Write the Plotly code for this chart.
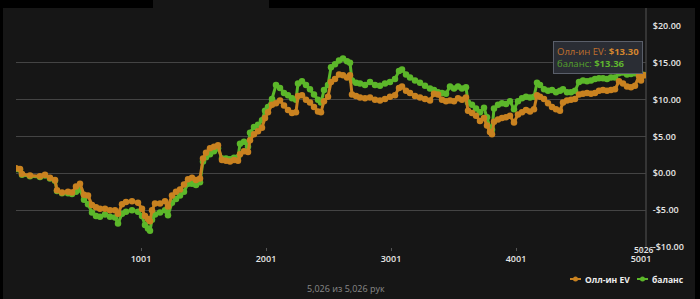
import plotly.graph_objects as go

hands = [1, 33, 49, 113, 193, 233, 273, 313, 329, 369, 417, 449, 481, 513, 545, 577, 609, 641, 673, 713,
         753, 793, 817, 849, 881, 929, 977, 1009, 1033, 1057, 1073, 1089, 1113, 1153, 1193, 1217, 1249, 1281,
         1313, 1345, 1377, 1409, 1441, 1473, 1497, 1521, 1553, 1585, 1617, 1649, 1681, 1713, 1745, 1777, 1793,
         1825, 1857, 1873, 1905, 1937, 1969, 1993, 2017, 2049, 2081, 2113, 2145, 2177, 2209, 2241, 2257, 2289,
         2321, 2353, 2385, 2417, 2441, 2465, 2497, 2521, 2553, 2585, 2617, 2649, 2673, 2689, 2721, 2753, 2793,
         2833, 2873, 2913, 2953, 2993, 3033, 3065, 3089, 3121, 3153, 3193, 3233, 3273, 3313, 3345, 3377, 3409,
         3441, 3473, 3505, 3537, 3569, 3601, 3617, 3649, 3681, 3713, 3745, 3769, 3793, 3809, 3825, 3857, 3889,
         3921, 3953, 3985, 4017, 4049, 4081, 4113, 4145, 4169, 4193, 4225, 4257, 4289, 4321, 4353, 4377, 4409,
         4441, 4473, 4505, 4537, 4569, 4601, 4633, 4665, 4697, 4729, 4761, 4793, 4825, 4857, 4889, 4921, 4953,
         4985, 5001, 5026]

allin_ev = [0.7, 0.6, -0.1, -0.3, -0.4, -0.2, -0.6, -0.9, -2.3, -2.6, -2.5, -2.6, -1.8, -1.4, -2.9, -3.0, -4.3,
            -4.6, -4.8, -4.8, -5.0, -5.0, -5.5, -4.2, -3.9, -3.8, -4.0, -4.8, -5.8, -6.2, -6.5, -5.0, -4.1, -4.1,
            -3.8, -4.5, -3.0, -2.5, -2.2, -1.5, -0.8, -0.6, -0.9, -0.7, 2.0, 2.8, 3.4, 3.6, 3.8, 1.8, 1.7, 1.6,
            1.8, 1.7, 2.6, 3.0, 2.9, 4.5, 5.3, 5.7, 6.2, 7.5, 8.3, 9.3, 9.5, 9.9, 9.2, 8.6, 8.2, 8.3, 10.5, 10.6,
            10.0, 9.6, 9.0, 8.4, 8.3, 9.8, 10.4, 12.4, 12.8, 13.4, 13.3, 13.0, 13.3, 10.7, 10.5, 10.3, 10.2, 10.3,
            10.0, 9.9, 10.1, 10.4, 10.6, 11.6, 11.8, 11.2, 10.9, 10.5, 10.3, 10.1, 9.9, 10.8, 10.7, 10.0, 9.8,
            9.9, 9.8, 10.2, 10.0, 10.3, 8.5, 8.2, 7.8, 7.1, 7.5, 6.5, 5.6, 5.3, 7.0, 7.3, 7.5, 7.6, 7.8, 6.9,
            8.0, 8.3, 8.6, 8.4, 8.7, 10.6, 10.4, 10.1, 9.5, 9.0, 8.7, 8.5, 9.6, 9.9, 10.0, 10.1, 10.7, 10.8,
            10.9, 10.8, 10.9, 11.2, 11.3, 11.2, 11.3, 11.4, 12.5, 12.2, 11.8, 11.7, 11.9, 13.2, 12.6, 13.30]

balance = [0.6, 0.5, -0.2, -0.4, -0.5, -0.3, -0.7, -1.0, -2.4, -2.7, -2.7, -2.8, -2.5, -2.2, -3.6, -4.2, -5.3,
           -5.8, -5.9, -5.6, -5.9, -6.0, -6.8, -5.5, -5.2, -5.0, -5.2, -5.8, -7.0, -7.5, -7.8, -6.3, -5.6, -5.3,
           -5.0, -5.7, -4.0, -3.5, -3.0, -2.5, -1.4, -1.4, -1.6, -1.2, 1.6, 2.2, 2.6, 3.0, 3.4, 2.0, 2.0, 1.9,
           2.1, 2.2, 4.0, 4.3, 3.6, 5.5, 6.3, 6.6, 7.2, 8.5, 9.0, 10.1, 12.0, 11.6, 10.9, 10.6, 10.2, 10.0, 12.2,
           12.5, 12.0, 11.4, 10.7, 10.0, 9.6, 11.3, 12.0, 14.4, 14.8, 15.3, 15.6, 15.2, 15.0, 12.6, 12.3, 12.2,
           12.0, 12.4, 12.0, 11.9, 12.2, 12.4, 12.8, 13.9, 14.1, 13.4, 13.0, 12.6, 12.3, 11.9, 11.5, 11.3, 11.0,
           10.9, 10.8, 11.8, 11.5, 11.8, 11.5, 11.7, 9.6, 9.3, 8.8, 8.3, 8.9, 7.6, 6.2, 5.9, 8.8, 9.3, 9.5, 9.4,
           9.8, 8.7, 9.8, 10.2, 10.4, 10.3, 10.4, 12.3, 12.0, 11.4, 11.2, 11.3, 11.0, 11.2, 11.4, 11.0, 11.0,
           11.2, 12.4, 12.6, 12.5, 12.6, 12.8, 12.9, 12.9, 12.8, 13.0, 13.0, 13.6, 13.7, 13.4, 13.5, 13.6, 13.7,
           13.5, 13.36]

series_names = ["Олл-ин EV", "баланс"]
x_tick_vals = [1001, 2001, 3001, 4001, 5001]
y_tick_vals = [-10, -5, 0, 5, 10, 15, 20]
y_tick_text = ["-$10.00", "-$5.00", "$0.00", "$5.00", "$10.00", "$15.00", "$20.00"]
total_hands = 5026

ORANGE = "#c98220"
GREEN = "#5cb72a"
PANEL = "#161616"
GRID = "#444444"

fig = go.Figure()
fig.add_trace(go.Scatter(x=hands, y=balance, mode="lines+markers", name=series_names[1],
                         line=dict(color=GREEN, width=3), marker=dict(color=GREEN, size=6.5),
                         showlegend=False, hoverinfo="skip"))
fig.add_trace(go.Scatter(x=hands, y=allin_ev, mode="lines+markers", name=series_names[0],
                         line=dict(color=ORANGE, width=3), marker=dict(color=ORANGE, size=6.5),
                         showlegend=False, hoverinfo="skip"))

L, R, T, B = 16, 54, 26, 52
PW, PH = 700 - L - R, 299 - T - B


def px(xp):
    return (xp - L) / PW


def py(yp):
    return (299 - B - yp) / PH


shapes = [
    dict(type="rect", xref="paper", yref="paper", x0=px(3), x1=px(695), y0=py(299), y1=py(8),
         fillcolor=PANEL, line=dict(width=0), layer="below"),
    dict(type="rect", xref="paper", yref="paper", x0=px(153), x1=px(269), y0=py(8), y1=py(0),
         fillcolor=PANEL, line=dict(width=0), layer="below"),
    dict(type="line", xref="paper", yref="paper", x0=1, x1=1, y0=0, y1=py(8),
         line=dict(color="#555555", width=1), layer="below"),
    # legend symbols
    dict(type="line", xref="paper", yref="paper", x0=px(570), x1=px(581), y0=py(279), y1=py(279),
         line=dict(color=ORANGE, width=2)),
    dict(type="circle", xref="paper", yref="paper", x0=px(573), x1=px(578), y0=py(281.5), y1=py(276.5),
         fillcolor=ORANGE, line=dict(width=0)),
    dict(type="line", xref="paper", yref="paper", x0=px(637), x1=px(648), y0=py(279), y1=py(279),
         line=dict(color=GREEN, width=2)),
    dict(type="circle", xref="paper", yref="paper", x0=px(640), x1=px(645), y0=py(281.5), y1=py(276.5),
         fillcolor=GREEN, line=dict(width=0)),
]

annotations = [
    dict(xref="paper", yref="paper", x=px(583), y=py(279), xanchor="left", yanchor="middle",
         text="<b>" + series_names[0] + "</b>", showarrow=False,
         font=dict(family="Open Sans", size=8.5, color="#eeeeee")),
    dict(xref="paper", yref="paper", x=px(650), y=py(279), xanchor="left", yanchor="middle",
         text="<b>" + series_names[1] + "</b>", showarrow=False,
         font=dict(family="Open Sans", size=8.5, color="#eeeeee")),
    dict(xref="paper", yref="paper", x=px(346), y=py(288), xanchor="center", yanchor="middle",
         text=f"{total_hands:,} из {total_hands:,} рук", showarrow=False,
         font=dict(family="Open Sans", size=9, color="#8a8a8a")),
    dict(xref="x", yref="paper", x=total_hands, y=py(249.5), xanchor="center", yanchor="middle",
         text=str(total_hands), showarrow=False,
         font=dict(family="Open Sans", size=8.5, color="#e6e6e6", weight=600)),
    dict(xref="paper", yref="paper", x=px(597.5), y=py(57.5), xanchor="center", yanchor="middle",
         text=(f"<span style='color:#c0702c'>{series_names[0]}: <b style='color:#d4862e'>${allin_ev[-1]:.2f}</b></span><br>"
               f"<span style='color:#55a22c'>{series_names[1]}: <b style='color:#5fb52e'>${balance[-1]:.2f}</b></span>"),
         showarrow=False, align="left", bgcolor="#2a2d34", bordercolor="#5a5f6a", borderwidth=1, borderpad=3,
         font=dict(family="Open Sans", size=9.5)),
]

fig.update_layout(
    width=700, height=299,
    margin=dict(l=L, r=R, t=T, b=B, pad=0),
    paper_bgcolor="#000000", plot_bgcolor="rgba(0,0,0,0)",
    showlegend=False,
    shapes=shapes, annotations=annotations,
    xaxis=dict(range=[1, 5041], tickvals=x_tick_vals, ticktext=[str(v) for v in x_tick_vals],
               showgrid=False, zeroline=False, showline=False, ticks="outside", ticklen=3,
               tickcolor="#555555", tickfont=dict(family="Open Sans", size=9, color="#e6e6e6", weight=600)),
    yaxis=dict(range=[-10, 20], side="right", tickvals=y_tick_vals, ticktext=y_tick_text,
               showgrid=True, gridcolor=GRID, gridwidth=1, zeroline=False, showline=False,
               ticks="outside", ticklen=4, tickcolor="rgba(0,0,0,0)",
               tickfont=dict(family="Open Sans", size=9, color="#e6e6e6", weight=600)),
)

fig.write_html("out.html")
